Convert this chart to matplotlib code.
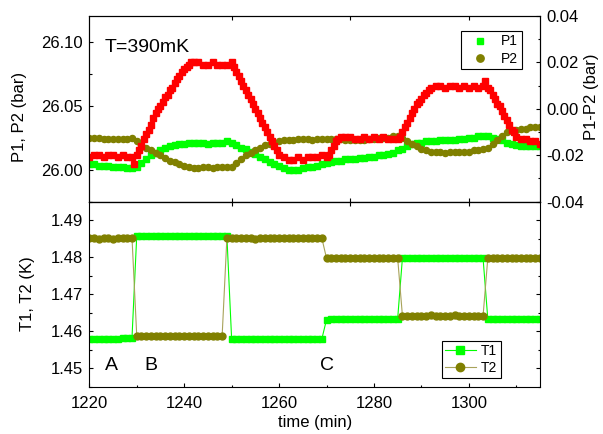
import matplotlib
matplotlib.use("Agg")
import matplotlib.pyplot as plt
from matplotlib import ticker

plt.rcParams["font.family"] = ["Liberation Sans", "DejaVu Sans"]
plt.rcParams["axes.unicode_minus"] = False

# sample times (min), one reading per minute
time = [
    1220, 1221, 1222, 1223, 1224, 1225, 1226, 1227, 1228, 1229,
    1230, 1231, 1232, 1233, 1234, 1235, 1236, 1237, 1238, 1239,
    1240, 1241, 1242, 1243, 1244, 1245, 1246, 1247, 1248, 1249,
    1250, 1251, 1252, 1253, 1254, 1255, 1256, 1257, 1258, 1259,
    1260, 1261, 1262, 1263, 1264, 1265, 1266, 1267, 1268, 1269,
    1270, 1271, 1272, 1273, 1274, 1275, 1276, 1277, 1278, 1279,
    1280, 1281, 1282, 1283, 1284, 1285, 1286, 1287, 1288, 1289,
    1290, 1291, 1292, 1293, 1294, 1295, 1296, 1297, 1298, 1299,
    1300, 1301, 1302, 1303, 1304, 1305, 1306, 1307, 1308, 1309,
    1310, 1311, 1312, 1313, 1314, 1315,
]

# pressures (bar)
p1 = [
    26.004, 26.004, 26.003, 26.003, 26.003, 26.002, 26.002, 26.002, 26.001, 26.001,
    26.002, 26.005, 26.008, 26.011, 26.013, 26.015, 26.017, 26.018, 26.019, 26.020,
    26.020, 26.021, 26.021, 26.021, 26.021, 26.020, 26.021, 26.021, 26.021, 26.022,
    26.021, 26.019, 26.017, 26.016, 26.014, 26.012, 26.010, 26.008, 26.006, 26.004,
    26.003, 26.001, 26.000, 26.000, 26.000, 26.001, 26.002, 26.002, 26.003, 26.004,
    26.005, 26.006, 26.007, 26.007, 26.008, 26.008, 26.008, 26.009, 26.009, 26.010,
    26.010, 26.011, 26.011, 26.012, 26.013, 26.015, 26.016, 26.018, 26.020, 26.021,
    26.021, 26.022, 26.022, 26.022, 26.023, 26.023, 26.023, 26.023, 26.024, 26.024,
    26.025, 26.025, 26.026, 26.026, 26.026, 26.025, 26.024, 26.023, 26.021, 26.020,
    26.019, 26.018, 26.018, 26.018, 26.018, 26.018,
]
p2 = [
    26.025, 26.025, 26.025, 26.024, 26.024, 26.024, 26.024, 26.024, 26.024, 26.025,
    26.022, 26.019, 26.017, 26.015, 26.013, 26.011, 26.009, 26.007, 26.006, 26.004,
    26.003, 26.002, 26.001, 26.001, 26.002, 26.002, 26.001, 26.002, 26.002, 26.002,
    26.002, 26.005, 26.008, 26.011, 26.013, 26.015, 26.017, 26.019, 26.020, 26.021,
    26.022, 26.023, 26.023, 26.023, 26.024, 26.024, 26.024, 26.023, 26.024, 26.024,
    26.024, 26.024, 26.024, 26.024, 26.023, 26.023, 26.023, 26.023, 26.023, 26.024,
    26.024, 26.025, 26.025, 26.025, 26.026, 26.026, 26.025, 26.022, 26.020, 26.018,
    26.016, 26.015, 26.014, 26.014, 26.014, 26.013, 26.014, 26.014, 26.014, 26.014,
    26.014, 26.015, 26.015, 26.016, 26.017, 26.020, 26.023, 26.026, 26.029, 26.030,
    26.031, 26.032, 26.032, 26.033, 26.033, 26.033,
]

# P1-P2 (bar), denser readings along the ramps
diff_time = [
    1220, 1221, 1222, 1223, 1224, 1225, 1226, 1227, 1228, 1229, 1229.5,
    1230, 1230.5, 1231, 1231.5, 1232, 1232.5, 1233, 1233.5, 1234, 1234.5,
    1235, 1235.5, 1236, 1236.5, 1237, 1237.5, 1238, 1238.5, 1239, 1239.5,
    1240, 1240.5, 1241, 1241.5, 1242, 1243, 1244, 1245, 1246, 1247, 1248, 1249,
    1250, 1250.5, 1251, 1251.5, 1252, 1252.5, 1253, 1253.5, 1254, 1254.5,
    1255, 1255.5, 1256, 1256.5, 1257, 1257.5, 1258, 1258.5, 1259, 1259.5,
    1260, 1261, 1262, 1263, 1264, 1265, 1266, 1267, 1268, 1269,
    1270, 1270.5, 1271, 1271.5, 1272, 1272.5, 1273, 1274, 1275, 1276, 1277, 1278, 1279,
    1280, 1281, 1282, 1283, 1284, 1285, 1285.5, 1286, 1286.5, 1287, 1287.5,
    1288, 1288.5, 1289, 1289.5, 1290, 1290.5, 1291, 1291.5, 1292, 1293, 1294,
    1295, 1296, 1297, 1298, 1299, 1300, 1301, 1302, 1303, 1303.5,
    1304, 1304.5, 1305, 1305.5, 1306, 1306.5, 1307, 1307.5, 1308, 1308.5,
    1309, 1309.5, 1310, 1311, 1312, 1313, 1314, 1315,
]
p_diff = [
    -0.021, -0.020, -0.020, -0.021, -0.020, -0.020, -0.021, -0.020, -0.021, -0.021, -0.024,
    -0.020, -0.018, -0.016, -0.013, -0.011, -0.009, -0.007, -0.004, -0.002, 0.000,
    0.001, 0.003, 0.005, 0.006, 0.008, 0.009, 0.011, 0.013, 0.014, 0.016,
    0.017, 0.018, 0.019, 0.020, 0.020, 0.020, 0.019, 0.019, 0.020, 0.019, 0.019, 0.019,
    0.020, 0.018, 0.016, 0.014, 0.012, 0.010, 0.008, 0.006, 0.004, 0.002,
    0.000, -0.002, -0.004, -0.006, -0.008, -0.010, -0.012, -0.014, -0.016, -0.018,
    -0.020, -0.021, -0.022, -0.022, -0.021, -0.022, -0.021, -0.021, -0.021, -0.020,
    -0.021, -0.020, -0.018, -0.016, -0.014, -0.013, -0.012, -0.012, -0.012, -0.013, -0.013, -0.012, -0.013,
    -0.012, -0.013, -0.012, -0.013, -0.013, -0.013, -0.012, -0.010, -0.008, -0.006, -0.004,
    -0.002, 0.000, 0.002, 0.003, 0.004, 0.006, 0.007, 0.008, 0.009, 0.010, 0.010,
    0.009, 0.010, 0.010, 0.009, 0.010, 0.009, 0.010, 0.009, 0.010, 0.012,
    0.009, 0.008, 0.006, 0.004, 0.002, 0.001, -0.001, -0.003, -0.005, -0.007,
    -0.009, -0.010, -0.012, -0.013, -0.013, -0.014, -0.014, -0.015,
]

# temperatures (K)
t1 = [
    1.4579, 1.4579, 1.4579, 1.4580, 1.4579, 1.4580, 1.4580, 1.4581, 1.4582, 1.4582,
    1.4858, 1.4857, 1.4857, 1.4857, 1.4857, 1.4857, 1.4857, 1.4858, 1.4857, 1.4857,
    1.4857, 1.4857, 1.4857, 1.4858, 1.4857, 1.4857, 1.4857, 1.4857, 1.4857, 1.4857,
    1.4579, 1.4578, 1.4578, 1.4578, 1.4579, 1.4578, 1.4578, 1.4578, 1.4578, 1.4578,
    1.4578, 1.4578, 1.4578, 1.4578, 1.4578, 1.4578, 1.4578, 1.4578, 1.4578, 1.4578,
    1.4631, 1.4633, 1.4633, 1.4633, 1.4633, 1.4633, 1.4634, 1.4633, 1.4633, 1.4633,
    1.4633, 1.4633, 1.4633, 1.4633, 1.4634, 1.4634, 1.4797, 1.4797, 1.4797, 1.4797,
    1.4797, 1.4797, 1.4797, 1.4798, 1.4797, 1.4797, 1.4797, 1.4797, 1.4797, 1.4797,
    1.4797, 1.4797, 1.4797, 1.4797, 1.4633, 1.4632, 1.4632, 1.4632, 1.4632, 1.4632,
    1.4632, 1.4632, 1.4632, 1.4632, 1.4632, 1.4632,
]
t2 = [
    1.4851, 1.4851, 1.4850, 1.4851, 1.4851, 1.4850, 1.4851, 1.4851, 1.4851, 1.4852,
    1.4587, 1.4587, 1.4587, 1.4587, 1.4587, 1.4587, 1.4587, 1.4588, 1.4587, 1.4587,
    1.4587, 1.4587, 1.4587, 1.4587, 1.4587, 1.4587, 1.4587, 1.4587, 1.4587, 1.4851,
    1.4851, 1.4851, 1.4851, 1.4851, 1.4851, 1.4850, 1.4851, 1.4851, 1.4851, 1.4851,
    1.4851, 1.4851, 1.4851, 1.4851, 1.4851, 1.4851, 1.4851, 1.4851, 1.4851, 1.4852,
    1.4797, 1.4797, 1.4797, 1.4797, 1.4797, 1.4797, 1.4798, 1.4797, 1.4797, 1.4797,
    1.4797, 1.4797, 1.4797, 1.4797, 1.4797, 1.4797, 1.4642, 1.4642, 1.4642, 1.4642,
    1.4642, 1.4642, 1.4643, 1.4642, 1.4642, 1.4642, 1.4642, 1.4643, 1.4642, 1.4642,
    1.4642, 1.4642, 1.4642, 1.4641, 1.4797, 1.4797, 1.4797, 1.4797, 1.4797, 1.4797,
    1.4797, 1.4797, 1.4797, 1.4797, 1.4797, 1.4797,
]

GREEN = "#00ff00"
OLIVE = "#808000"
RED = "#ff0000"

fig = plt.figure(figsize=(6.03, 4.34), dpi=100)
ax1 = fig.add_axes([0.1481, 0.5357, 0.7474, 0.4274])
ax2 = fig.add_axes([0.1481, 0.1090, 0.7474, 0.4267])
ax1r = ax1.twinx()

for ax in (ax1, ax2, ax1r):
    for sp in ax.spines.values():
        sp.set_linewidth(0.8)

# --- top panel: pressures
ax1.plot(time, p1, ls="none", marker="s", ms=4.0, color=GREEN, mec=GREEN, label="P1")
ax1.plot(time, p2, ls="none", marker="o", ms=4.4, color=OLIVE, mec=OLIVE, label="P2")
ax1r.plot(diff_time, p_diff, ls="none", marker="s", ms=4.3, color=RED, mec=RED)

ax1.set_xlim(1220, 1315)
ax1.set_ylim(25.975, 26.12)
ax1.set_xticks([1250, 1275, 1300])
ax1.set_yticks([26.00, 26.05, 26.10])
ax1.yaxis.set_minor_locator(ticker.MultipleLocator(0.025))
ax1.yaxis.set_major_formatter(ticker.FormatStrFormatter("%.2f"))
ax1.tick_params(axis="x", which="both", direction="in", top=True, bottom=True,
                labelbottom=False, length=3, width=0.8)
ax1.tick_params(axis="y", which="both", direction="in", left=True, right=False,
                labelsize=12, pad=4.5, width=0.8)
ax1.tick_params(axis="y", which="major", length=3)
ax1.tick_params(axis="y", which="minor", length=1.8)
ax1.set_ylabel("P1, P2 (bar)", fontsize=12)
ax1.yaxis.set_label_coords(-0.138, 0.457)

ax1r.set_ylim(-0.04, 0.04)
ax1r.set_yticks([-0.04, -0.02, 0.00, 0.02, 0.04])
ax1r.yaxis.set_minor_locator(ticker.MultipleLocator(0.01))
ax1r.yaxis.set_major_formatter(ticker.FormatStrFormatter("%.2f"))
ax1r.tick_params(axis="y", which="both", direction="in", labelsize=12, pad=4.5, width=0.8)
ax1r.tick_params(axis="y", which="major", length=3)
ax1r.tick_params(axis="y", which="minor", length=1.8)
ax1r.set_ylabel("P1-P2 (bar)", fontsize=12)
ax1r.yaxis.set_label_coords(1.098, 0.563)

ax1.text(0.035, 0.8075, "T=390mK", transform=ax1.transAxes, fontsize=14, va="baseline")

leg1 = ax1r.legend(*ax1.get_legend_handles_labels(), loc="upper right",
                   bbox_to_anchor=(0.9594, 0.9191), borderaxespad=0, fontsize=10,
                   handlelength=2.2, handletextpad=0.45, borderpad=0.25, labelspacing=0.25,
                   markerscale=1.2, fancybox=False, edgecolor="black", framealpha=1)
leg1.get_frame().set_linewidth(0.8)

# --- bottom panel: temperatures
ax2.plot(time, t1, ls="-", lw=0.8, marker="s", ms=4.8, color=GREEN, mec=GREEN, label="T1")
ax2.plot(time, t2, ls="-", lw=0.8, marker="o", ms=5.0, color="#a8a35a",
         mfc=OLIVE, mec=OLIVE, label="T2")

ax2.set_xlim(1220, 1315)
ax2.set_ylim(1.445, 1.495)
ax2.xaxis.set_major_locator(ticker.MultipleLocator(20))
ax2.xaxis.set_minor_locator(ticker.MultipleLocator(10))
ax2.set_yticks([1.45, 1.46, 1.47, 1.48, 1.49])
ax2.yaxis.set_minor_locator(ticker.MultipleLocator(0.005))
ax2.yaxis.set_major_formatter(ticker.FormatStrFormatter("%.2f"))
ax2.tick_params(which="both", direction="in", left=True, right=True, top=False,
                labelsize=12, pad=4.5, width=0.8)
ax2.tick_params(axis="x", pad=6.5)
ax2.tick_params(which="major", length=3)
ax2.tick_params(which="minor", length=1.8)
ax2.set_xlabel("time (min)", fontsize=12, labelpad=3)
ax2.set_ylabel("T1, T2 (K)", fontsize=12)
ax2.yaxis.set_label_coords(-0.12, 0.5)

top = ax2.secondary_xaxis("top")
top.set_xticks([1250, 1275, 1300])
top.tick_params(direction="in", labeltop=False, length=3, width=0.8)
top.spines["top"].set_linewidth(0.8)

for label, x in (("A", 1224.7), ("B", 1233.0), ("C", 1270.2)):
    ax2.text(x, 1.4495, label, fontsize=14, ha="center", va="baseline")

leg2 = ax2.legend(loc="upper right", bbox_to_anchor=(0.9135, 0.2484), borderaxespad=0,
                  fontsize=10, handlelength=2.2, handletextpad=0.4, borderpad=0.25,
                  labelspacing=0.2, markerscale=1.2, fancybox=False, edgecolor="black",
                  framealpha=1)
leg2.get_frame().set_linewidth(0.8)

fig.savefig("out.png", dpi=100)
